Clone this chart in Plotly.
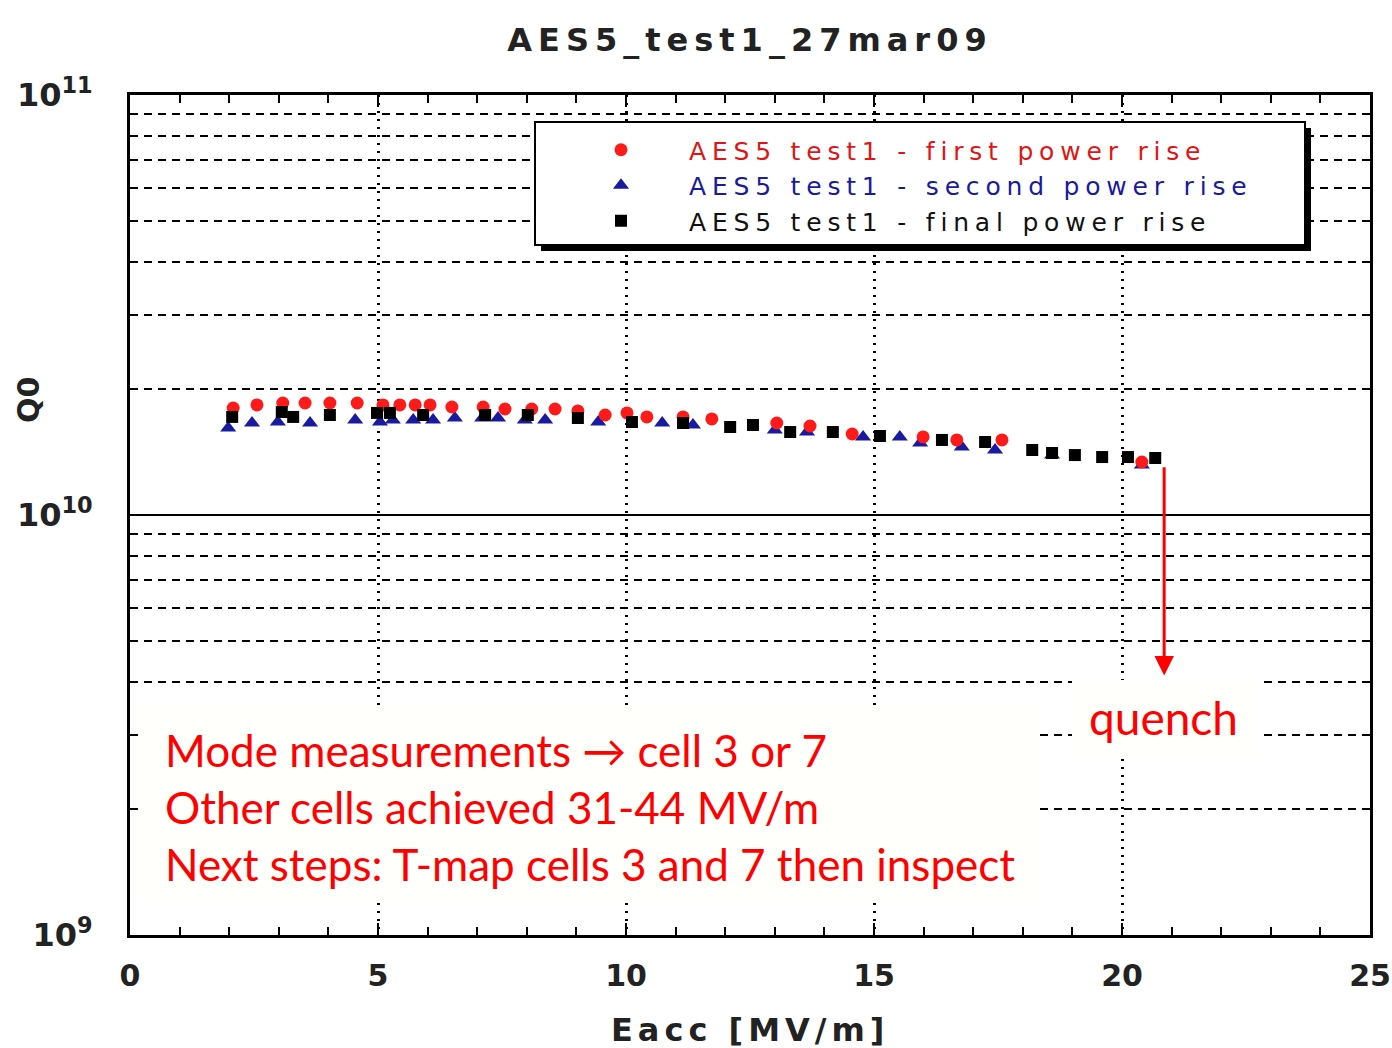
import numpy as np
import plotly.graph_objects as go

# Q0 vs accelerating gradient, three power rises of the AES5 cavity test
red_eacc = [2.08, 2.56, 3.08, 3.53, 4.03, 4.58, 5.10, 5.44, 5.75, 6.05, 6.49, 7.12, 7.56,
            8.10, 8.57, 9.03, 9.58, 10.02, 10.42, 11.15, 11.73, 13.04, 13.71, 14.56,
            15.99, 16.67, 17.58, 20.40]
red_q0 = [1.798, 1.828, 1.848, 1.848, 1.848, 1.848, 1.828, 1.828, 1.828, 1.828, 1.808,
          1.808, 1.788, 1.788, 1.788, 1.769, 1.730, 1.750, 1.712, 1.712, 1.693, 1.656,
          1.629, 1.559, 1.534, 1.509, 1.509, 1.337]

blue_eacc = [1.98, 2.46, 2.98, 3.63, 4.54, 5.04, 5.30, 5.71, 6.11, 6.55, 7.10, 7.42, 7.96,
             8.37, 9.44, 10.73, 11.35, 13.00, 13.65, 14.78, 15.52, 15.93, 16.77, 17.44,
             18.59, 20.40]
blue_q0 = [1.611, 1.656, 1.665, 1.656, 1.684, 1.665, 1.684, 1.684, 1.684, 1.702, 1.702,
           1.702, 1.684, 1.684, 1.665, 1.656, 1.638, 1.594, 1.576, 1.534, 1.534, 1.484,
           1.452, 1.428, 1.389, 1.315]

black_eacc = [2.06, 3.06, 3.29, 4.03, 4.98, 5.24, 5.91, 7.16, 8.02, 9.03, 10.12, 11.15,
              12.10, 12.56, 13.31, 14.17, 15.12, 16.37, 17.24, 18.19, 18.59, 19.05, 19.60,
              20.12, 20.67]
black_q0 = [1.712, 1.759, 1.712, 1.730, 1.750, 1.750, 1.730, 1.730, 1.730, 1.702, 1.665,
            1.656, 1.620, 1.638, 1.576, 1.576, 1.542, 1.509, 1.492, 1.428, 1.405, 1.389,
            1.374, 1.374, 1.367]

series_names = ["AES5 test1 - first power rise",
                "AES5 test1 - second power rise",
                "AES5 test1 - final power rise"]
series_colors = ["#ff1a1a", "#1a1aa0", "#000000"]
legend_text_colors = ["#e01515", "#1a1aa0", "#111111"]

x_ticks = [0, 5, 10, 15, 20, 25]
y_major = [1e9, 1e10, 1e11]
y_major_text = ["10<sup>9</sup>", "10<sup>10</sup>", "10<sup>11</sup>"]
y_minor = [k * 1e9 for k in range(2, 10)] + [k * 1e10 for k in range(2, 10)]

quench_eacc = 20.85
quench_q0_top = 1.31e10
quench_q0_tip = 4.15e9

notes = ["Mode measurements \u2192 cell 3 or 7",
         "Other cells achieved 31-44 MV/m",
         "Next steps: T-map cells 3 and 7 then inspect"]

SCALE = 1e10
BOLD = "DejaVu Sans"

# plot area in pixels: x 130..1370, y 95..935
PX0, PX1, PY0, PY1 = 130, 1370, 95, 935


def px(xp):
    return (xp - PX0) / (PX1 - PX0)


def py(yp):
    return (PY1 - yp) / (PY1 - PY0)


def legend_label(i):
    return (f"<span style='letter-spacing:5.8px;color:{legend_text_colors[i]}'>"
            f"{series_names[i]}</span>")


fig = go.Figure()

fig.add_trace(go.Scatter(
    x=blue_eacc, y=np.array(blue_q0) * SCALE, mode="markers",
    name=legend_label(1), legendrank=2,
    marker=dict(symbol="triangle-up", size=14, color=series_colors[1]),
))
fig.add_trace(go.Scatter(
    x=red_eacc, y=np.array(red_q0) * SCALE, mode="markers",
    name=legend_label(0), legendrank=1,
    marker=dict(symbol="circle", size=13, color=series_colors[0]),
))
fig.add_trace(go.Scatter(
    x=black_eacc, y=np.array(black_q0) * SCALE, mode="markers",
    name=legend_label(2), legendrank=3,
    marker=dict(symbol="square", size=12, color=series_colors[2]),
))

# legend frame with drop shadow
fig.add_shape(type="rect", xref="paper", yref="paper", layer="above",
              x0=px(541), x1=px(1311), y0=py(251), y1=py(128),
              fillcolor="black", line=dict(width=0))
fig.add_shape(type="rect", xref="paper", yref="paper", layer="above",
              x0=px(535), x1=px(1305), y0=py(245), y1=py(122),
              fillcolor="white", line=dict(color="black", width=2))

# blank panels behind the notes
fig.add_shape(type="rect", xref="paper", yref="paper", layer="above",
              x0=px(140), x1=px(1040), y0=py(900), y1=py(705),
              fillcolor="#fffffc", line=dict(width=0))
fig.add_shape(type="rect", xref="paper", yref="paper", layer="above",
              x0=px(1072), x1=px(1258), y0=py(757), y1=py(680),
              fillcolor="#fffffc", line=dict(width=0))

# quench arrow
fig.add_annotation(x=quench_eacc, y=np.log10(quench_q0_tip),
                   ax=quench_eacc, ay=np.log10(quench_q0_top),
                   xref="x", yref="y", axref="x", ayref="y",
                   showarrow=True, arrowhead=2, arrowsize=1.3, arrowwidth=3,
                   arrowcolor="#ff0000", text="")
fig.add_annotation(x=px(1163), y=py(717), xref="paper", yref="paper",
                   xanchor="center", yanchor="middle",
                   text="quench", showarrow=False,
                   font=dict(family="Lato", size=46, color="#ff0000"))

for i, line in enumerate(notes):
    fig.add_annotation(x=px(163), y=py(750 + 57 * i),
                       xref="paper", yref="paper", xanchor="left", yanchor="middle",
                       text=line, showarrow=False,
                       font=dict(family="Lato", size=44, color="#ff0000"))

# axis titles
fig.add_annotation(x=0.5, y=py(1030), xref="paper", yref="paper",
                   xanchor="center", yanchor="middle", showarrow=False,
                   text="<span style='letter-spacing:5px'>Eacc [MV/m]</span>",
                   font=dict(family=BOLD, size=32, color="#222", weight="bold"))
fig.add_annotation(x=px(28), y=py(400), xref="paper", yref="paper",
                   xanchor="center", yanchor="middle", showarrow=False,
                   textangle=-90, text="Q0",
                   font=dict(family=BOLD, size=30, color="#222", weight="bold"))

fig.update_layout(
    width=1392, height=1048,
    margin=dict(l=PX0, r=1392 - PX1, t=PY0, b=1048 - PY1),
    paper_bgcolor="white", plot_bgcolor="white",
    title=dict(text="<span style='letter-spacing:6px'>AES5_test1_27mar09</span>",
               x=0.5, xref="paper", xanchor="center",
               y=1 - 40 / 1048, yref="container", yanchor="middle",
               font=dict(family=BOLD, size=32, color="#222", weight="bold")),
    legend=dict(x=px(553), y=py(127), xanchor="left", yanchor="top",
                bgcolor="rgba(0,0,0,0)", borderwidth=0, itemwidth=126,
                font=dict(family="DejaVu Sans", size=25, color="#222"),
                tracegroupgap=0),
    showlegend=True,
)

fig.update_xaxes(
    range=[0, 25], tickmode="array", tickvals=x_ticks, automargin=False,
    showline=True, linecolor="black", linewidth=3, mirror="ticks",
    ticks="inside", ticklen=12, tickwidth=2, tickcolor="black",
    showgrid=True, gridcolor="black", gridwidth=2.5, griddash="2px,6px",
    zeroline=False,
    minor=dict(dtick=1, ticks="inside", ticklen=8, tickwidth=2, tickcolor="black",
               showgrid=False),
    ticklabelstandoff=12,
    tickfont=dict(family=BOLD, size=30, color="#222", weight="bold"),
)
fig.update_yaxes(
    type="log", range=[9, 11], tickmode="array", tickvals=y_major, ticktext=y_major_text,
    automargin=False,
    showline=True, linecolor="black", linewidth=3, mirror="ticks",
    ticks="inside", ticklen=12, tickwidth=2, tickcolor="black",
    showgrid=True, gridcolor="black", gridwidth=2,
    zeroline=False,
    minor=dict(tickmode="array", tickvals=y_minor, ticks="inside", ticklen=8,
               tickwidth=2, tickcolor="black",
               showgrid=True, gridcolor="black", gridwidth=1.5, griddash="8px,6px"),
    ticklabelstandoff=28,
    tickfont=dict(family=BOLD, size=32, color="#222", weight="bold"),
)

fig.write_html("out.html")
